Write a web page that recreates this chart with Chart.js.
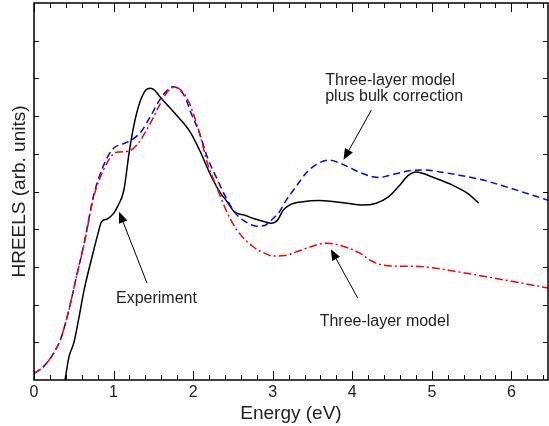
<!DOCTYPE html>
<html>
<head>
<meta charset="utf-8">
<script src="https://cdn.jsdelivr.net/npm/chart.js@4.4.1/dist/chart.umd.min.js"></script>
<style>
  html, body { margin: 0; padding: 0; background: #fff; }
  #wrap { width: 549px; height: 426px; }
</style>
</head>
<body>
<div id="wrap"><canvas id="chartHreels" width="549" height="426"></canvas></div>
<script>
// eixos
const xTickLabels = [0, 1, 2, 3, 4, 5, 6];
const xMin = 0, xMax = 6.46;
const yMin = 0, yMax = 10;

// Experimento (linha preta)
const expX = [0.39, 0.44, 0.5, 0.56, 0.63, 0.73, 0.8, 0.85, 0.92, 1.0, 1.05, 1.13, 1.2, 1.29, 1.39, 1.46, 1.52, 1.58, 1.75, 1.96, 2.08, 2.21, 2.33, 2.42, 2.52, 2.65, 2.75, 2.9, 2.98, 3.06, 3.13, 3.21, 3.38, 3.59, 3.93, 4.13, 4.3, 4.45, 4.59, 4.7, 4.8, 4.9, 5.0, 5.26, 5.45, 5.59];
const expY = [0, 0.62, 0.98, 1.6, 2.39, 3.27, 3.85, 4.2, 4.27, 4.42, 4.6, 5.04, 6.1, 7.08, 7.65, 7.74, 7.68, 7.52, 7.12, 6.59, 6.1, 5.48, 5.0, 4.75, 4.46, 4.37, 4.29, 4.2, 4.16, 4.24, 4.5, 4.64, 4.73, 4.76, 4.69, 4.64, 4.69, 4.85, 5.15, 5.42, 5.52, 5.47, 5.39, 5.17, 4.95, 4.69];

// Modelo de tres camadas + correcao bulk (azul tracejado)
const bulkX = [0, 0.08, 0.16, 0.25, 0.33, 0.42, 0.54, 0.63, 0.75, 0.88, 1.0, 1.1, 1.23, 1.35, 1.46, 1.58, 1.68, 1.75, 1.82, 1.9, 1.97, 2.08, 2.18, 2.29, 2.43, 2.55, 2.7, 2.8, 2.9, 2.96, 3.08, 3.17, 3.3, 3.42, 3.55, 3.71, 3.85, 3.96, 4.1, 4.26, 4.34, 4.45, 4.6, 4.75, 4.93, 5.1, 5.3, 5.63, 6.0, 6.46];
const bulkY = [0.18, 0.28, 0.45, 0.72, 1.06, 1.7, 2.8, 3.63, 4.9, 5.72, 6.15, 6.25, 6.37, 6.6, 6.98, 7.43, 7.7, 7.78, 7.72, 7.5, 7.1, 6.55, 5.9, 5.38, 4.77, 4.38, 4.15, 4.08, 4.1, 4.2, 4.45, 4.77, 5.15, 5.49, 5.72, 5.83, 5.75, 5.64, 5.5, 5.39, 5.37, 5.42, 5.5, 5.56, 5.57, 5.52, 5.45, 5.31, 5.08, 4.77];

// Modelo de tres camadas (vermelho traco-ponto)
const modelX = [0, 0.08, 0.16, 0.25, 0.33, 0.42, 0.54, 0.63, 0.75, 0.88, 1.0, 1.08, 1.2, 1.3, 1.46, 1.58, 1.68, 1.77, 1.85, 1.95, 2.08, 2.18, 2.29, 2.43, 2.55, 2.75, 2.88, 3.0, 3.15, 3.3, 3.5, 3.68, 3.85, 4.09, 4.25, 4.38, 4.6, 4.8, 5.0, 5.3, 5.63, 6.0, 6.46];
const modelY = [0.18, 0.28, 0.45, 0.72, 1.06, 1.7, 2.8, 3.6, 4.85, 5.6, 6.0, 6.05, 6.08, 6.25, 6.8, 7.3, 7.65, 7.77, 7.68, 7.35, 6.55, 5.75, 5.15, 4.43, 3.98, 3.54, 3.38, 3.29, 3.3, 3.4, 3.55, 3.63, 3.57, 3.37, 3.15, 3.05, 3.02, 3.02, 2.98, 2.88, 2.76, 2.62, 2.44];

// Anotacoes (coordenadas em unidades dos dados)
const noteTexts = [
    { lines: ['Experiment'], x: 1.03, y: 2.17 },
    { lines: ['Three-layer model', 'plus bulk correction'], x: 3.66, y: 7.94 },
    { lines: ['Three-layer model'], x: 3.59, y: 1.54 }
];
const noteArrows = [
    { from: [1.42, 2.57], to: [1.07, 4.46] },
    { from: [4.24, 7.16], to: [3.89, 5.84] },
    { from: [4.07, 2.17], to: [3.73, 3.47] }
];

const FONT = "'Liberation Sans', Arial, Helvetica, sans-serif";
const TEXT_COLOR = '#222';

const toPoints = (xs, ys) => xs.map((x, i) => ({ x: x, y: ys[i] }));

// Moldura com ticks para dentro (nos 4 lados)
const frameTicks = {
    id: 'frameTicks',
    afterDraw: (chart) => {
        const { ctx, chartArea: a, scales: { x, y } } = chart;
        ctx.save();
        ctx.strokeStyle = '#000';
        ctx.lineWidth = 1;
        for (let i = 0; i * 0.2 <= xMax + 1e-9; i++) {
            const px = Math.round(x.getPixelForValue(i * 0.2)) + 0.5;
            const len = i % 5 === 0 ? 9 : 5;
            ctx.beginPath();
            ctx.moveTo(px, a.bottom); ctx.lineTo(px, a.bottom - len);
            ctx.moveTo(px, a.top); ctx.lineTo(px, a.top + len);
            ctx.stroke();
        }
        for (let v = yMin + 1; v < yMax; v++) {
            const py = Math.round(y.getPixelForValue(v)) + 0.5;
            ctx.beginPath();
            ctx.moveTo(a.left, py); ctx.lineTo(a.left + 5, py);
            ctx.moveTo(a.right, py); ctx.lineTo(a.right - 5, py);
            ctx.stroke();
        }
        ctx.lineWidth = 1.5;
        ctx.strokeRect(a.left, a.top, a.right - a.left, a.bottom - a.top);
        ctx.restore();
    }
};

const annotations = {
    id: 'annotations',
    afterDatasetsDraw: (chart) => {
        const { ctx, scales: { x, y } } = chart;
        ctx.save();
        ctx.fillStyle = TEXT_COLOR;
        ctx.font = '16px ' + FONT;
        ctx.textBaseline = 'middle';
        ctx.textAlign = 'left';
        noteTexts.forEach(n => {
            n.lines.forEach((line, i) => {
                ctx.fillText(line, x.getPixelForValue(n.x), y.getPixelForValue(n.y) + i * 15.5);
            });
        });

        ctx.strokeStyle = '#000';
        ctx.fillStyle = '#000';
        ctx.lineWidth = 1;
        noteArrows.forEach(ar => {
            const x1 = x.getPixelForValue(ar.from[0]), y1 = y.getPixelForValue(ar.from[1]);
            const x2 = x.getPixelForValue(ar.to[0]), y2 = y.getPixelForValue(ar.to[1]);
            const ang = Math.atan2(y2 - y1, x2 - x1);
            const headLen = 11, headW = 4.5;
            const bx = x2 - headLen * Math.cos(ang), by = y2 - headLen * Math.sin(ang);
            ctx.beginPath();
            ctx.moveTo(x1, y1); ctx.lineTo(bx, by);
            ctx.stroke();
            ctx.beginPath();
            ctx.moveTo(x2, y2);
            ctx.lineTo(bx + headW * Math.sin(ang), by - headW * Math.cos(ang));
            ctx.lineTo(bx - headW * Math.sin(ang), by + headW * Math.cos(ang));
            ctx.closePath();
            ctx.fill();
        });
        ctx.restore();
    }
};

new Chart(document.getElementById('chartHreels'), {
    type: 'line',
    data: {
        datasets: [
            { label: 'Three-layer model', data: toPoints(modelX, modelY), borderColor: '#ff0000', borderWidth: 1.5, borderDash: [8, 3, 2, 3] },
            { label: 'Three-layer model plus bulk correction', data: toPoints(bulkX, bulkY), borderColor: '#0000ff', borderWidth: 1.5, borderDash: [7, 4] },
            { label: 'Experiment', data: toPoints(expX, expY), borderColor: '#000000', borderWidth: 1.5 }
        ]
    },
    options: {
        responsive: false,
        animation: false,
        devicePixelRatio: 1,
        layout: { padding: { top: 3, right: 1, left: 0, bottom: 0 } },
        elements: {
            point: { radius: 0 },
            line: { tension: 0, cubicInterpolationMode: 'monotone', fill: false }
        },
        plugins: { legend: { display: false }, tooltip: { enabled: false } },
        scales: {
            x: {
                type: 'linear', min: xMin, max: xMax,
                afterBuildTicks: (s) => { s.ticks = xTickLabels.map(v => ({ value: v })); },
                afterFit: (s) => { s.height = 46; },
                grid: { display: false, drawTicks: false },
                border: { display: false },
                ticks: { padding: 3, color: TEXT_COLOR, font: { family: FONT, size: 16 }, maxRotation: 0 },
                title: { display: true, text: 'Energy (eV)', color: TEXT_COLOR, font: { family: FONT, size: 19 }, padding: { top: 0, bottom: 1 } }
            },
            y: {
                min: yMin, max: yMax,
                afterFit: (s) => { s.width = 34; },
                grid: { display: false, drawTicks: false },
                border: { display: false },
                ticks: { display: false },
                title: { display: true, text: 'HREELS (arb. units)', color: TEXT_COLOR, font: { family: FONT, size: 19 }, padding: { top: 8, bottom: 0 } }
            }
        }
    },
    plugins: [frameTicks, annotations]
});
</script>
</body>
</html>
